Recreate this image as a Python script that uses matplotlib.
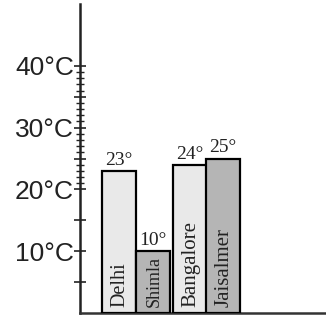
import matplotlib
matplotlib.use("Agg")
import matplotlib.pyplot as plt
from matplotlib.ticker import FixedLocator
from matplotlib import font_manager

cities = ["Delhi", "Shimla", "Bangalore", "Jaisalmer"]
temps = [23, 10, 24, 25]
value_labels = ["23°", "10°", "24°", "25°"]
colors = ["#e9e9e9", "#b5b5b5", "#e9e9e9", "#b5b5b5"]
ytick_major = [5, 10, 15, 20, 25, 30, 35, 40]
ytick_labels = {10: "10°C", 20: "20°C", 30: "30°C", 40: "40°C"}
ytick_minor = list(range(21, 40))

names = sorted({f.name for f in font_manager.fontManager.ttflist})
serif_name = "Liberation Serif" if "Liberation Serif" in names else "DejaVu Serif"
sans_name = "Liberation Sans" if "Liberation Sans" in names else "DejaVu Sans"

plt.rcParams["font.family"] = [sans_name, "DejaVu Sans"]

W, H = 326, 320
fig = plt.figure(figsize=(W / 100, H / 100), dpi=100)
ax = fig.add_axes([80 / W, 7 / H, (W - 80) / W, 309 / H])

positions = [0, 1, 2.06, 3.03]
ax.bar(positions, temps, width=0.99, color=colors, edgecolor="black", linewidth=1.6, zorder=3)

name_sizes = [14.5, 13, 15, 15]
for x, t, vl, name, fs in zip(positions, temps, value_labels, cities, name_sizes):
    ax.text(x, t + 0.35, vl, ha="center", va="bottom", fontsize=14, family=[serif_name, "DejaVu Serif"], color="#222222")
    ax.text(x + 0.03, 0.9, name, rotation=90, ha="center", va="bottom", fontsize=fs,
            family=[serif_name, "DejaVu Serif"], color="#222222")

ax.set_xlim(-1.12, 6.01)
ax.set_ylim(0, 50)

for s in ["top", "right"]:
    ax.spines[s].set_visible(False)
ax.spines["left"].set_linewidth(1.8)
ax.spines["bottom"].set_linewidth(1.8)
ax.spines["left"].set_color("#222222")
ax.spines["bottom"].set_color("#333333")

ax.set_xticks([])
ax.yaxis.set_major_locator(FixedLocator(ytick_major))
ax.yaxis.set_minor_locator(FixedLocator(ytick_minor))
ax.set_yticklabels([ytick_labels.get(v, "") for v in ytick_major], family=[sans_name, "DejaVu Sans"])
ax.tick_params(axis="y", which="major", direction="inout", length=9, width=1.2, labelsize=19, pad=0, colors="#222222")
ax.tick_params(axis="y", which="minor", direction="inout", length=6, width=1.0, colors="#222222")

fig.savefig("out.png", dpi=100)
